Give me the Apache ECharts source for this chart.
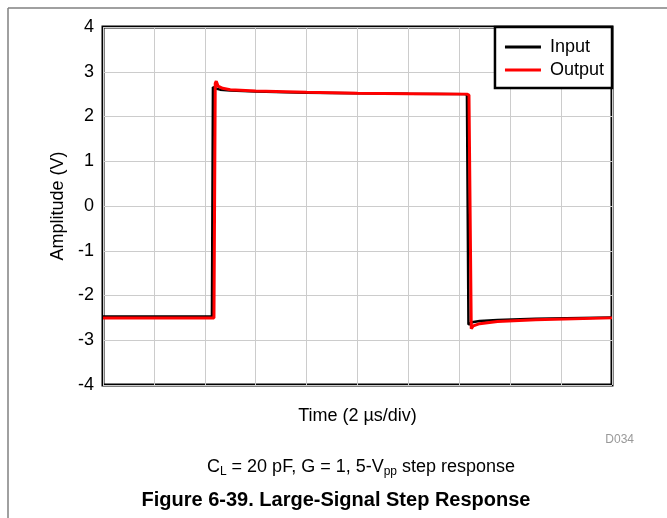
<!DOCTYPE html>
<html>
<head>
<meta charset="utf-8">
<script src="https://cdn.jsdelivr.net/npm/echarts@6/dist/echarts.min.js"></script>
<style>
html,body{margin:0;padding:0;background:#fff;}
#chart{width:667px;height:518px;}
</style>
</head>
<body>
<div id="chart"></div>
<script>
// Time in µs (2 µs/div, 10 divisions), amplitude in V
var inputTime  = [0, 2, 4, 4.28, 4.32, 4.4, 4.6, 5, 6, 8, 10, 12, 14.2, 14.3, 14.36, 14.5, 14.8, 15.5, 17, 20];
var inputVals  = [-2.47, -2.47, -2.47, -2.47, 2.66, 2.63, 2.6, 2.58, 2.56, 2.53, 2.52, 2.51, 2.5, 2.49, -2.65, -2.6, -2.57, -2.55, -2.52, -2.49];
var outputTime = [0, 2, 4, 4.36, 4.41, 4.45, 4.52, 4.7, 5, 6, 8, 10, 12, 14.3, 14.38, 14.47, 14.55, 14.8, 15.5, 17, 20];
var outputVals = [-2.5, -2.5, -2.5, -2.5, 2.74, 2.79, 2.68, 2.63, 2.6, 2.57, 2.54, 2.52, 2.51, 2.5, 2.48, -2.74, -2.68, -2.63, -2.58, -2.54, -2.5];
var seriesNames = ['Input', 'Output'];
var yTicks = [-4, -3, -2, -1, 0, 1, 2, 3, 4];

var FONT = '"Liberation Sans", Arial, sans-serif';
function pairs(t, v) { return t.map(function (x, i) { return [x, v[i]]; }); }

var chart = echarts.init(document.getElementById('chart'), null, {renderer: 'canvas'});
chart.setOption({
  animation: false,
  backgroundColor: '#fff',
  textStyle: {fontFamily: FONT},
  grid: {left: 103, right: 55, top: 27, bottom: 133, show: true, borderColor: '#000', borderWidth: 3, backgroundColor: 'transparent'},
  legend: {
    data: seriesNames,
    orient: 'vertical',
    right: 55, top: 27,
    backgroundColor: '#fff',
    borderColor: '#000', borderWidth: 2.5,
    padding: [11, 8, 9, 10],
    itemGap: 5,
    icon: 'rect',
    itemWidth: 36, itemHeight: 3,
    textStyle: {fontSize: 18, color: '#000', fontFamily: FONT, padding: [0, 0, 0, 4]}
  },
  xAxis: {
    type: 'value', min: 0, max: 20, interval: 2,
    name: 'Time (2 µs/div)', nameLocation: 'middle', nameGap: 22,
    nameTextStyle: {fontSize: 18, color: '#000', fontFamily: FONT},
    axisLine: {show: false}, axisTick: {show: false}, axisLabel: {show: false},
    splitLine: {show: true, lineStyle: {color: '#cccccc', width: 1}}
  },
  yAxis: {
    type: 'value', min: yTicks[0], max: yTicks[yTicks.length - 1], interval: 1,
    name: 'Amplitude (V)', nameLocation: 'middle', nameGap: 36,
    nameTextStyle: {fontSize: 18, color: '#000', fontFamily: FONT},
    axisLine: {show: false}, axisTick: {show: false},
    axisLabel: {fontSize: 18, color: '#000', margin: 9, fontFamily: FONT},
    splitLine: {show: true, lineStyle: {color: '#cccccc', width: 1}}
  },
  series: [
    {name: seriesNames[0], type: 'line', data: pairs(inputTime, inputVals), showSymbol: false, symbol: 'none',
     lineStyle: {color: '#000', width: 2.5}, itemStyle: {color: '#000'}, z: 2},
    {name: seriesNames[1], type: 'line', data: pairs(outputTime, outputVals), showSymbol: false, symbol: 'none',
     lineStyle: {color: '#ff0000', width: 3}, itemStyle: {color: '#ff0000'}, z: 3}
  ],
  graphic: [
    {type: 'line', shape: {x1: 8, y1: 8, x2: 667, y2: 8}, style: {stroke: '#808080', lineWidth: 1.5}},
    {type: 'line', shape: {x1: 8, y1: 8, x2: 8, y2: 518}, style: {stroke: '#808080', lineWidth: 1.5}},
    {type: 'text', x: 634, y: 440, style: {text: 'D034', font: '12px ' + FONT, fill: '#999999', textAlign: 'right', textVerticalAlign: 'middle'}},
    {type: 'text', x: 361, y: 467, style: {
      text: 'C{sub|L} = 20 pF, G = 1, 5-V{sub|pp} step response',
      font: '18px ' + FONT, fill: '#000', textAlign: 'center', textVerticalAlign: 'middle',
      rich: {sub: {fontSize: 12, fontFamily: FONT, verticalAlign: 'bottom', padding: [10, 0, 0, 0]}}
    }},
    {type: 'text', x: 336, y: 500, style: {text: 'Figure 6-39. Large-Signal Step Response', font: 'bold 20px ' + FONT, fill: '#000', textAlign: 'center', textVerticalAlign: 'middle'}}
  ]
});
</script>
</body>
</html>
